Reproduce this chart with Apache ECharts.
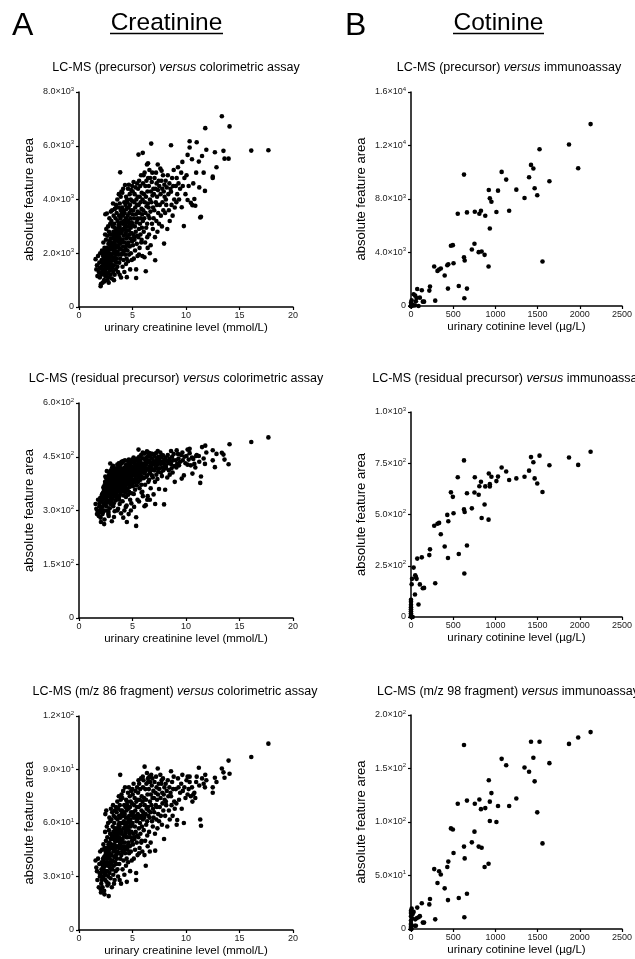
<!DOCTYPE html>
<html><head><meta charset="utf-8">
<script src="https://cdn.jsdelivr.net/npm/echarts/dist/echarts.min.js"></script>
<style>html,body{margin:0;padding:0;background:#fff}#c{width:635px;height:959px}</style>
</head><body><div id="c"></div>
<script>
// ---------- Creatinine (shared x for panels A) ----------
const creatinineLevel = [
1.55,1.62,1.68,1.72,1.78,1.85,1.9,1.95,1.98,1.92,
2.02,2.05,2.08,2.1,2.12,2.15,2.18,2.2,2.22,2.25,2.28,2.3,2.32,2.35,2.36,2.38,2.4,2.42,2.44,2.45,2.46,2.47,2.48,2.49,2.12,2.26,2.33,2.41,2.05,2.38,
2.5,2.52,2.54,2.55,2.57,2.58,2.6,2.61,2.63,2.65,2.66,2.68,2.7,2.71,2.72,2.74,2.75,2.77,2.78,2.8,2.81,2.82,2.84,2.85,2.86,2.87,2.88,2.9,2.91,2.92,2.93,2.94,2.95,2.96,2.97,2.98,2.99,2.62,2.76,2.89,
3.0,3.02,3.03,3.05,3.06,3.07,3.08,3.1,3.12,3.13,3.15,3.16,3.17,3.18,3.2,3.21,3.22,3.24,3.25,3.26,3.28,3.29,3.3,3.32,3.33,3.34,3.35,3.36,3.38,3.39,3.4,3.42,3.43,3.44,3.45,3.46,3.47,3.48,3.49,3.11,3.27,3.37,
3.5,3.52,3.53,3.55,3.56,3.58,3.59,3.6,3.62,3.63,3.65,3.66,3.67,3.69,3.7,3.71,3.72,3.74,3.75,3.76,3.78,3.79,3.8,3.81,3.82,3.84,3.85,3.86,3.87,3.88,3.9,3.91,3.92,3.93,3.94,3.95,3.96,3.97,3.98,3.99,3.57,3.77,
4.0,4.02,4.03,4.05,4.06,4.07,4.08,4.1,4.12,4.13,4.15,4.16,4.17,4.18,4.2,4.22,4.23,4.24,4.25,4.27,4.28,4.3,4.31,4.32,4.34,4.35,4.36,4.38,4.39,4.4,4.41,4.42,4.44,4.45,4.46,4.47,4.48,4.49,4.14,4.37,
4.5,4.52,4.53,4.55,4.56,4.58,4.59,4.6,4.62,4.63,4.65,4.66,4.68,4.7,4.71,4.73,4.74,4.75,4.77,4.78,4.8,4.81,4.83,4.84,4.85,4.87,4.88,4.9,4.92,4.93,4.95,4.96,4.98,4.99,4.64,4.89,
5.0,5.02,5.04,5.06,5.08,5.1,5.12,5.14,5.16,5.18,5.2,5.22,5.24,5.26,5.28,5.3,5.32,5.34,5.34,5.36,5.38,5.4,5.42,5.43,5.44,5.46,5.47,5.48,5.49,5.15,
5.5,5.52,5.56,5.54,5.58,5.6,5.62,5.64,5.66,5.68,5.7,5.72,5.74,5.76,5.78,5.8,5.82,5.84,5.86,5.88,5.9,5.92,5.94,5.96,5.97,5.98,5.61,5.85,
6.0,6.03,6.05,6.08,6.1,6.13,6.15,6.18,6.2,6.22,6.24,6.26,6.28,6.3,6.32,6.35,6.37,6.4,6.42,6.44,6.46,6.48,6.12,6.38,6.45,
6.5,6.53,6.55,6.58,6.6,6.63,6.65,6.68,6.7,6.72,6.75,6.77,6.8,6.82,6.85,6.87,6.9,6.92,6.95,6.97,6.62,
7.0,7.03,7.06,7.1,7.12,7.15,7.18,7.2,7.23,7.25,7.28,7.3,7.33,7.36,7.38,7.4,7.45,7.48,
7.5,7.55,7.6,7.62,7.65,7.7,7.72,7.75,7.78,7.8,7.85,7.88,7.92,7.95,7.98,
8.0,8.05,8.1,8.15,8.2,8.25,8.3,8.35,8.4,8.45,8.48,8.12,
8.55,8.6,8.6,8.65,8.7,8.75,8.8,8.85,8.9,8.95,
9.05,9.1,9.13,9.18,9.25,9.3,9.35,9.45,
9.55,9.6,9.66,9.7,9.8,9.85,9.95,
10.05,10.15,10.15,10.25,10.34,10.34,10.45,
10.56,10.6,10.68,10.78,10.87,10.95,
11.0,11.2,11.24,11.33,11.4,11.5,
11.77,11.8,11.9,11.65,
12.5,12.5,12.7,12.85,
13.35,13.5,13.6,13.98,14.07,
16.1,17.7
];
const creatininePrecursorArea = [
1780,1400,1555,1150,1900,1300,1650,1100,2000,1450,
770,850,1200,1500,1750,2100,1350,900,1650,1900,2400,1250,1550,1000,1800,2200,1400,1600,2700,1150,3450,1950,1450,2050,1250,1550,2000,1700,1450,950,
1300,2500,1650,2900,1150,1850,3480,2200,1450,2650,1000,1750,2050,1550,3000,1250,2350,1900,900,2800,1600,2150,3300,1350,2450,1800,2000,1500,2700,3100,1700,2250,1200,2550,1950,3550,1400,2000,1100,2350,
2400,1600,3200,1900,2700,1060,2150,3600,1450,2550,3000,1750,2250,3850,1300,2800,2000,3400,1550,2600,2100,3100,1850,2350,1200,2950,3650,2450,1700,2750,2200,3300,1400,2050,3800,2500,1950,2850,1650,2300,1000,2650,
2600,3500,1800,2900,2300,4000,1500,3200,2050,2700,1300,3700,2450,3050,1950,2800,4200,2200,3400,1650,2600,3000,1200,3850,2350,2900,5010,1800,3300,2500,4100,2150,3600,1100,2750,3150,1950,4300,2400,3500,2700,3100,
2800,3700,2000,4250,3100,1500,2500,3400,2250,4400,2900,1750,3600,2650,3200,2100,3900,1300,2950,3500,2400,4540,1950,3050,2700,3800,2200,3300,1600,4100,2850,2550,3650,1800,3150,1110,2300,4000,2000,2750,
3000,3900,2100,3400,2600,4400,1700,3200,2400,3700,2850,4550,1950,3500,2700,3100,4200,2250,3800,1400,3300,2550,4000,2950,2000,3600,4350,2750,3150,1750,3950,2450,4500,3450,2300,3050,
3100,4300,2300,3600,2700,4650,1800,3300,3900,2500,4200,3000,2100,3700,4450,2800,3450,1080,1400,4000,3150,2350,3800,4600,2650,3250,1900,4100,3550,2600,
3300,4400,5670,2600,3800,2900,4700,3500,2200,4100,3100,4500,2700,3900,3300,4900,2400,3650,4250,2950,3450,1900,4000,5735,3200,4600,1950,2500,
3600,4900,2800,4200,3300,5000,3900,2400,4500,3500,1330,4100,2950,4700,3750,5300,3100,4300,2200,3850,4800,3400,1850,2600,5350,
3700,4500,2700,5100,3300,4000,4800,3550,2300,4300,6080,3900,4650,3100,5000,4150,2900,3700,4400,3300,2000,
4200,3600,4800,2600,1740,4400,3900,5000,3200,4600,3800,4100,2800,5300,4350,3500,4700,3100,
4500,3800,5150,4200,3400,4700,5070,3000,4400,3900,4900,3600,4300,2360,4550,
4100,3500,4700,3800,4450,2900,4900,4200,3600,4600,3200,4000,
4400,6020,4290,3800,4800,3400,4500,5100,4000,3700,
4500,3900,4800,4200,5200,4600,4000,4400,
5000,3710,5400,4500,3010,4800,4200,
4900,5660,3980,4500,6170,5935,3880,
5500,3790,4600,4020,3770,5000,
6130,5410,4450,3330,3360,5620,
4320,6655,5850,5000,
4850,4800,5760,5200,
7100,5810,5520,5520,6720,
5820,5835
];
const creatinineResidualArea = [
318,305,290,300,330,285,312,296,335,320,
280,268,300,325,340,345,310,290,330,350,365,318,338,262,355,370,300,348,380,322,395,335,342,375,332,296,360,315,305,275,
352,378,330,390,312,345,410,362,322,385,300,352,340,365,395,290,372,355,285,398,328,368,405,340,380,306,392,350,372,431,338,360,318,395,344,412,326,358,296,385,
375,345,402,355,388,270,370,420,332,382,400,348,368,425,312,391,360,410,320,378,362,398,340,373,298,394,415,368,352,385,358,406,328,366,418,380,345,392,336,370,282,376,
382,410,350,394,368,428,338,402,360,386,305,418,375,398,355,390,432,364,408,330,383,396,318,422,370,392,431,346,405,378,430,362,412,292,387,400,352,436,372,408,300,340,
390,416,356,433,398,326,378,406,366,438,392,342,412,382,402,358,420,300,394,410,372,440,350,397,385,418,365,404,338,428,389,375,414,314,400,268,360,424,280,310,
395,420,360,406,380,438,344,402,372,415,390,442,352,410,384,400,432,366,418,330,404,377,425,393,300,412,436,386,398,348,422,374,442,408,290,320,
400,434,368,412,385,448,346,404,420,378,430,396,358,414,440,388,408,257,281,424,400,370,417,445,382,402,330,428,410,310,
404,436,470,380,418,392,450,410,362,428,398,440,386,420,404,455,372,414,432,394,408,352,424,462,340,446,325,350,
412,459,390,430,404,459,420,372,440,410,315,428,394,448,416,465,398,434,340,418,452,380,312,330,462,
414,440,386,460,404,424,452,410,362,434,458,420,446,398,458,428,392,414,438,345,330,
430,412,452,380,318,436,420,460,400,446,418,428,388,466,434,408,450,360,
440,418,462,430,406,448,455,396,436,420,454,412,432,317,442,
428,358,448,418,438,392,455,432,412,444,400,424,
436,466,430,418,450,406,440,458,424,380,
440,420,468,430,458,445,426,436,
455,389,462,440,398,450,432,
452,470,428,442,472,460,426,
448,403,444,430,420,452,
455,452,436,377,395,477,
430,481,462,445,
468,440,421,458,
461,456,442,429,485,
491,504
];
const creatinineFragmentArea = [
39,35,33,28,40,24,37,30,44,32,
23,21,26,34,38,45,30,24,36,40,48,29,35,22,41,46,31,36,55,28,65,42,33,44,28,33,40,38,32,20,
31,50,37,67,27,40,58,46,33,52,25,38,44,36,60,30,48,41,19,56,37,45,63,32,49,40,43,35,54,61,38,47,29,51,42,68,34,43,26,46,
48,37,62,42,53,24,46,66,34,51,58,39,47,70,31,55,44,64,36,52,45,60,41,48,28,57,67,50,38,54,46,63,33,44,69,50,42,56,37,47,26,53,
52,66,40,57,47,72,34,62,44,54,30,68,50,59,43,55,75,46,64,37,52,58,28,70,48,56,87,40,63,51,73,46,67,26,54,60,42,76,49,65,53,60,
55,67,44,74,60,34,51,64,47,78,57,39,66,53,61,45,70,31,57,65,49,80,43,59,54,69,46,63,36,73,56,52,67,40,60,27,47,72,44,55,
58,70,45,63,52,77,38,61,49,68,56,80,43,64,54,60,75,47,69,33,62,52,72,58,44,66,78,55,60,39,71,50,79,64,48,59,
60,76,48,66,54,82,40,63,70,51,74,58,45,67,78,55,64,28,32,72,61,49,69,80,53,62,42,73,65,52,
63,77,84,52,69,57,82,64,46,73,60,79,54,70,63,85,49,67,75,58,64,44,72,86,62,80,43,50,
66,84,56,74,63,91.6,70,50,79,65,36,73,59,82,68,88,61,76,47,69,83,64,42,53,85,
67,79,55,86,63,72,83,66,49,76,87,70,81,61,85,74,58,68,78,63,44,
74,66,83,54,44.5,77,70,86,62,80,69,73,57,90.6,76,65,82,61,
79,69,87,74,64,82,84,59,77,71,85,67,76,51,80,
73,64,82,70,78,58,84,75,67,80,62,72,
77,89,75,70,83,64,79,86,72,68,
79,71,59,61.7,85,80,73,77,
82,68,87,78,60,80,74,
84,86,76,79,86,83,75,
80,72,76,77,74,83,
86,91,81,62,58.5,85,
80,87,84,82,
80,77,85.4,83,
90.6,88.4,85.4,95,87.6,
97,104.5
];

// ---------- Cotinine (shared x for panels B) ----------
const cotinineLevel = [2128,1872,1523,1981,1422,1450,1399,1640,1465,1496,1345,1248,1074,1128,1031,922,934,953,1163,1012,628,554,663,756,810,829,880,934,473,496,752,721,802,837,872,628,636,919,1558,275,314,333,353,399,442,430,504,566,438,663,632,287,225,217,128,74,31,50,105,58,140,155,8,0,12,89,47,0,0,0,0,0,0,0,0,5,20,66];
const cotininePrecursorArea = [13600,12075,11725,10300,10550,10275,9625,9325,8800,8275,8075,8700,10025,9450,8625,8675,8050,7800,7125,7025,9825,6900,7000,7050,6900,7125,6750,5800,4500,4550,4650,4225,4025,4075,3825,3650,3400,2950,3325,2950,2625,2725,2800,2275,3125,3050,3200,1500,1300,1300,575,400,1450,1150,1175,1275,875,775,625,350,325,325,425,250,125,0,50,0,0,0,0,0,0,0,0,50,25,600];
const cotinineResidualArea = [806,778,787,742,780,755,714,740,676,651,684,676,729,710,685,700,648,684,668,663,764,682,604,682,638,660,637,637,608,586,607,530,596,483,549,525,512,475,610,445,455,459,404,344,467,498,506,307,288,349,212,165,330,302,291,285,241,204,159,195,140,142,160,84,186,61,110,75,60,48,38,28,18,10,4,0,0,186];
const cotinineFragmentArea = [184,173,175,179,175,160,147,155,138,109,151,122,159,153,115,139,119,127,115,100,172,117,120,117,121,112,113,101,94,93,91,81,77,76,58,77,66,61,80,56,43,54,51,38,63,58,71,29,27,33,11,9,28,23,24,20,16,9,12,3,6,6,19,15,10,11,3,12,8,5,4,2,1,0,17,0,14,10];

// ---------- Tick labels ----------
const creatinineXMax = 20, creatinineXStep = 5;
const cotinineXMax = 2500, cotinineXStep = 500;
const yTicksA1 = ['0','2.0×10^3','4.0×10^3','6.0×10^3','8.0×10^3'];
const yTicksB1 = ['0','4.0×10^3','8.0×10^3','1.2×10^4','1.6×10^4'];
const yTicksA2 = ['0','1.5×10^2','3.0×10^2','4.5×10^2','6.0×10^2'];
const yTicksB2 = ['0','2.5×10^2','5.0×10^2','7.5×10^2','1.0×10^3'];
const yTicksA3 = ['0','3.0×10^1','6.0×10^1','9.0×10^1','1.2×10^2'];
const yTicksB3 = ['0','5.0×10^1','1.0×10^2','1.5×10^2','2.0×10^2'];

const FONT = '"Liberation Sans", Arial, Helvetica, sans-serif';
const TICK_COLOR = '#222';

const panels = [
  {grid:{left:79,top:92,width:214,height:215}, xs:creatinineLevel, ys:creatininePrecursorArea, xMax:creatinineXMax, xStep:creatinineXStep, yMax:8000, yStep:2000, yTicks:yTicksA1, xName:'urinary creatinine level (mmol/L)', t1:'LC-MS (precursor) ', t2:' colorimetric assay', tx:176, ty:68},
  {grid:{left:411,top:92,width:215,height:214}, xs:cotinineLevel, ys:cotininePrecursorArea, xMax:cotinineXMax, xStep:cotinineXStep, yMax:16000, yStep:4000, yTicks:yTicksB1, xName:'urinary cotinine level (µg/L)', t1:'LC-MS (precursor) ', t2:' immunoassay', tx:509, ty:68},
  {grid:{left:79,top:403,width:214,height:215}, xs:creatinineLevel, ys:creatinineResidualArea, xMax:creatinineXMax, xStep:creatinineXStep, yMax:600, yStep:150, yTicks:yTicksA2, xName:'urinary creatinine level (mmol/L)', t1:'LC-MS (residual precursor) ', t2:' colorimetric assay', tx:176, ty:379},
  {grid:{left:411,top:412,width:215,height:205}, xs:cotinineLevel, ys:cotinineResidualArea, xMax:cotinineXMax, xStep:cotinineXStep, yMax:1000, yStep:250, yTicks:yTicksB2, xName:'urinary cotinine level (µg/L)', t1:'LC-MS (residual precursor) ', t2:' immunoassay', tx:508, ty:379},
  {grid:{left:79,top:716,width:214,height:214}, xs:creatinineLevel, ys:creatinineFragmentArea, xMax:creatinineXMax, xStep:creatinineXStep, yMax:120, yStep:30, yTicks:yTicksA3, xName:'urinary creatinine level (mmol/L)', t1:'LC-MS (m/z 86 fragment) ', t2:' colorimetric assay', tx:175, ty:692},
  {grid:{left:411,top:715,width:215,height:214}, xs:cotinineLevel, ys:cotinineFragmentArea, xMax:cotinineXMax, xStep:cotinineXStep, yMax:200, yStep:50, yTicks:yTicksB3, xName:'urinary cotinine level (µg/L)', t1:'LC-MS (m/z 98 fragment) ', t2:' immunoassay', tx:508, ty:692}
];

const lbl = {fontFamily:FONT, color:TICK_COLOR};
function yFormatter(ticks, step){
  return function(v){
    const s = ticks[Math.round(v/step)];
    if (s === undefined) return '';
    if (s.indexOf('^') < 0) return s;
    const parts = s.split('^');
    return '{b|' + parts[0] + '}{s|' + parts[1] + '}';
  };
}

const option = {
  animation:false,
  backgroundColor:'#fff',
  grid: panels.map(p => Object.assign({containLabel:false}, p.grid)),
  xAxis: panels.map((p,i) => ({
    gridIndex:i, type:'value', min:0, max:p.xMax, interval:p.xStep,
    axisLine:{show:true, onZero:false, lineStyle:{color:'#000', width:1.5}},
    axisTick:{show:true, length:3, lineStyle:{color:'#000', width:1.2}},
    splitLine:{show:false},
    axisLabel:{fontSize:9, fontFamily:FONT, color:TICK_COLOR, margin:4, formatter:v => String(v)},
    name:p.xName, nameLocation:'middle', nameGap:15,
    nameTextStyle:{fontSize:11.5, fontFamily:FONT, color:'#000'}
  })),
  yAxis: panels.map((p,i) => ({
    gridIndex:i, type:'value', min:0, max:p.yMax, interval:p.yStep,
    axisLine:{show:true, onZero:false, lineStyle:{color:'#000', width:1.5}},
    axisTick:{show:true, length:3, lineStyle:{color:'#000', width:1.2}},
    splitLine:{show:false},
    axisLabel:{fontSize:9, fontFamily:FONT, color:TICK_COLOR, margin:5,
      formatter:yFormatter(p.yTicks, p.yStep),
      rich:{
        b:Object.assign({fontSize:9, lineHeight:12, verticalAlign:'middle'}, lbl),
        s:Object.assign({fontSize:6, lineHeight:6, verticalAlign:'top'}, lbl)
      }},
    name:'absolute feature area', nameLocation:'middle', nameGap:43,
    nameTextStyle:{fontSize:13, fontFamily:FONT, color:'#000'}
  })),
  series: panels.map((p,i) => {
    const n = Math.min(p.xs.length, p.ys.length);
    const data = [];
    for (let k=0;k<n;k++) data.push([p.xs[k], p.ys[k]]);
    return {type:'scatter', xAxisIndex:i, yAxisIndex:i, data, symbol:'circle', symbolSize:4.6,
      itemStyle:{color:'#000', opacity:1}, silent:true, clip:false};
  }),
  graphic: [
    {type:'text', x:12, y:26, style:{text:'A', font:'32px '+FONT, fill:'#000', textAlign:'left', textVerticalAlign:'middle'}},
    {type:'text', x:345, y:26, style:{text:'B', font:'32px '+FONT, fill:'#000', textAlign:'left', textVerticalAlign:'middle'}},
    {type:'text', x:166.5, y:23, style:{text:'Creatinine', font:'24.5px '+FONT, fill:'#000', textAlign:'center', textVerticalAlign:'middle'}},
    {type:'text', x:498.5, y:23, style:{text:'Cotinine', font:'24.5px '+FONT, fill:'#000', textAlign:'center', textVerticalAlign:'middle'}},
    {type:'line', shape:{x1:110, y1:33.5, x2:223, y2:33.5}, style:{stroke:'#000', lineWidth:1.5}},
    {type:'line', shape:{x1:453, y1:33.5, x2:544, y2:33.5}, style:{stroke:'#000', lineWidth:1.5}}
  ].concat(panels.map(p => ({
    type:'text', x:p.tx, y:p.ty,
    style:{
      text:'{n|' + p.t1 + '}{i|versus}{n|' + p.t2 + '}',
      textAlign:'center', textVerticalAlign:'middle',
      rich:{
        n:{fontSize:12.5, fontFamily:FONT, fill:'#000', color:'#000'},
        i:{fontSize:12.5, fontFamily:FONT, fontStyle:'italic', fill:'#000', color:'#000'}
      }
    }
  })))
};

const chart = echarts.init(document.getElementById('c'), null, {renderer:'canvas'});
chart.setOption(option);
</script></body></html>
